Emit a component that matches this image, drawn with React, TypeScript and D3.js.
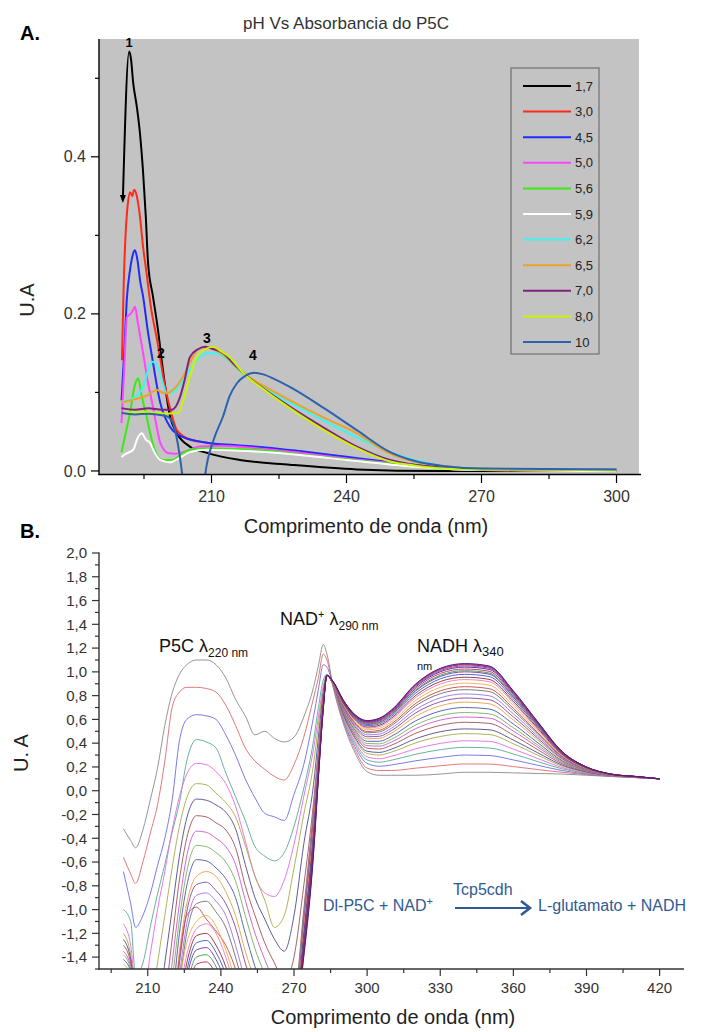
import React from 'react';
import * as d3 from 'd3';

const FONT = "'Liberation Sans', Arial, Helvetica, sans-serif";

// ---------------- Panel A data ----------------
const A_TITLE = 'pH Vs Absorbancia do P5C';
const A_LABELS = ['1,7', '3,0', '4,5', '5,0', '5,6', '5,9', '6,2', '6,5', '7,0', '8,0', '10'];
const A_COLORS = ['#000000', '#ff2a1a', '#1f2bff', '#ff45ff', '#3bea10', '#ffffff', '#3cf5f5', '#eba22a', '#7f237f', '#c8f500', '#2d62ae'];
const A_X_DOMAIN = [185, 305];
const A_Y_DOMAIN = [-0.0045, 0.55];
const A_X_TICKS = [210, 240, 270, 300];
const A_X_MINOR = [195, 225, 255, 285];
const A_Y_TICKS = [0, 0.2, 0.4];
const A_Y_MINOR = [0.1, 0.3, 0.5];

const a17 = [[190.3, 0.345], [191.7, 0.534], [192.1, 0.525], [192.6, 0.494], [193.4, 0.464], [194.1, 0.43], [194.8, 0.38], [195.4, 0.324], [195.9, 0.265], [197, 0.222], [198.1, 0.18], [199.2, 0.129], [200.8, 0.069], [202.3, 0.048], [205.2, 0.031], [209, 0.023], [216.3, 0.014], [227.4, 0.008], [242.3, 0.002], [260, 0.0], [300, 0.0]];
const a30 = [[190.1, 0.141], [190.5, 0.24], [190.9, 0.3], [191.4, 0.34], [191.9, 0.355], [192.4, 0.35], [192.8, 0.358], [193.4, 0.35], [194.1, 0.324], [194.8, 0.285], [195.5, 0.255], [196.5, 0.21], [197.9, 0.167], [199.7, 0.107], [201, 0.075], [202.3, 0.052], [205.2, 0.04], [209, 0.036], [215, 0.032], [222, 0.029], [230, 0.024], [240, 0.017], [250, 0.01], [258, 0.005], [265, 0.002], [280, 0.001], [300, 0.001]];
const a45 = [[190, 0.09], [190.6, 0.15], [191.2, 0.22], [191.9, 0.256], [192.5, 0.275], [193, 0.281], [193.5, 0.27], [194.2, 0.24], [194.8, 0.222], [195.8, 0.18], [196.8, 0.145], [198.6, 0.087], [200.8, 0.056], [203.7, 0.043], [209, 0.036], [215, 0.033], [222, 0.03], [230, 0.025], [240, 0.018], [250, 0.011], [258, 0.006], [265, 0.003], [280, 0.002], [300, 0.002]];
const a50 = [[190, 0.061], [190.6, 0.13], [191.2, 0.196], [192, 0.2], [192.6, 0.205], [193, 0.209], [193.6, 0.19], [194.8, 0.15], [195.8, 0.115], [196.8, 0.087], [197.7, 0.06], [198.6, 0.036], [200.3, 0.023], [202, 0.022], [203.7, 0.024], [207.4, 0.031], [212, 0.032], [220, 0.029], [230, 0.023], [240, 0.016], [250, 0.01], [258, 0.005], [265, 0.002], [280, 0.001], [300, 0.001]];
const a56 = [[190, 0.024], [191, 0.05], [191.9, 0.074], [193, 0.11], [193.7, 0.118], [194.5, 0.095], [195.6, 0.069], [196.5, 0.045], [197.4, 0.027], [199, 0.014], [201.4, 0.014], [203, 0.02], [205.2, 0.027], [209, 0.029], [215, 0.028], [222, 0.026], [230, 0.021], [240, 0.015], [250, 0.009], [258, 0.004], [265, 0.002], [300, 0.001]];
const a59 = [[190, 0.018], [191, 0.022], [192.6, 0.027], [193.6, 0.042], [194.5, 0.048], [195.4, 0.04], [196.3, 0.036], [197.5, 0.022], [198.6, 0.014], [200.8, 0.011], [203, 0.017], [205.2, 0.024], [209, 0.027], [215, 0.026], [222, 0.024], [230, 0.02], [240, 0.014], [250, 0.008], [258, 0.004], [265, 0.002], [300, 0.0]];
const a62 = [[190, 0.088], [191.5, 0.09], [193, 0.094], [194.8, 0.107], [196, 0.13], [196.8, 0.139], [197.5, 0.137], [198.1, 0.132], [199, 0.115], [200.1, 0.099], [201.4, 0.1], [203, 0.11], [205.2, 0.129], [207, 0.143], [209, 0.15], [211, 0.15], [213, 0.144], [216.3, 0.127], [220, 0.112], [227.4, 0.087], [235, 0.064], [242.3, 0.043], [249.7, 0.024], [255, 0.014], [262, 0.006], [270, 0.003], [280, 0.002], [300, 0.002]];
const a65 = [[190, 0.087], [192, 0.09], [194, 0.093], [195.6, 0.096], [197.9, 0.103], [199, 0.1], [200.1, 0.099], [201.4, 0.103], [202.5, 0.11], [203.7, 0.12], [205.2, 0.138], [206.8, 0.154], [208, 0.157], [209.2, 0.157], [211, 0.153], [212.6, 0.148], [215, 0.135], [217, 0.125], [222, 0.107], [227.4, 0.09], [235, 0.068], [242.3, 0.048], [249.7, 0.022], [255, 0.012], [262, 0.006], [270, 0.003], [280, 0.002], [300, 0.002]];
const a70 = [[190, 0.08], [193, 0.078], [196, 0.08], [199, 0.078], [201.2, 0.078], [203, 0.094], [204, 0.115], [205.2, 0.145], [207, 0.155], [208.6, 0.158], [210.5, 0.155], [212.6, 0.15], [215, 0.136], [217, 0.125], [222, 0.103], [227.4, 0.082], [235, 0.055], [242.3, 0.031], [249.7, 0.014], [255, 0.008], [262, 0.004], [270, 0.002], [300, 0.001]];
const a80 = [[190, 0.074], [195, 0.075], [200, 0.073], [202.6, 0.074], [204, 0.095], [205.2, 0.12], [206.3, 0.14], [207.4, 0.15], [209, 0.156], [210.4, 0.158], [212, 0.153], [214, 0.145], [217, 0.125], [222, 0.102], [227.4, 0.08], [235, 0.052], [242.3, 0.029], [249.7, 0.012], [255, 0.007], [262, 0.003], [270, 0.002], [300, 0.001]];
const a10 = [[190, 0.074], [193, 0.072], [196, 0.073], [199, 0.071], [200.3, 0.069], [201.5, 0.06], [202.5, 0.035], [203.5, -0.005], [204.5, -0.06], [205.5, -0.15], [206.5, -0.16], [207.5, -0.07], [208.6, -0.005], [210.5, 0.04], [212.6, 0.07], [214, 0.095], [215.7, 0.112], [217.5, 0.121], [219.5, 0.125], [221.5, 0.123], [224, 0.117], [227.4, 0.107], [235, 0.08], [242.3, 0.052], [249.7, 0.024], [255, 0.013], [262, 0.006], [270, 0.003], [300, 0.002]];
const A_SERIES = [a17, a30, a45, a50, a56, a59, a62, a65, a70, a80, a10];

// ---------------- Panel B data ----------------
const B_X_TICKS = [210, 240, 270, 300, 330, 360, 390, 420];
const B_X_MINOR = [195, 225, 255, 285, 315, 345, 375, 405];
const B_Y_TICKS = [-1.4, -1.2, -1.0, -0.8, -0.6, -0.4, -0.2, 0.0, 0.2, 0.4, 0.6, 0.8, 1.0, 1.2, 1.4, 1.6, 1.8, 2.0];
const B_Y_MINOR = [-1.5, -1.3, -1.1, -0.9, -0.7, -0.5, -0.3, -0.1, 0.1, 0.3, 0.5, 0.7, 0.9, 1.1, 1.3, 1.5, 1.7, 1.9];
const B_WL = [200, 203, 205, 208, 211, 214, 217, 220, 223, 226, 230, 234, 238, 242, 246, 250, 254, 258, 262, 266, 270, 274, 278, 280, 282, 283.5, 286, 290, 295, 300, 305, 310, 320, 330, 340, 350, 360, 370, 380, 390, 400, 410, 420];

const b01 = [-0.32, -0.42, -0.48, -0.33, -0.08, 0.19, 0.55, 0.82, 0.98, 1.06, 1.10, 1.10, 1.06, 0.95, 0.77, 0.63, 0.47, 0.50, 0.44, 0.41, 0.45, 0.62, 0.87, 1.05, 1.23, 1.15, 0.88, 0.58, 0.32, 0.16, 0.13, 0.13, 0.13, 0.14, 0.155, 0.155, 0.15, 0.145, 0.14, 0.13, 0.12, 0.11, 0.10];
const b02 = [-0.56, -0.70, -0.78, -0.60, -0.36, -0.12, 0.25, 0.70, 0.83, 0.87, 0.87, 0.86, 0.83, 0.72, 0.55, 0.36, 0.25, 0.18, 0.12, 0.09, 0.22, 0.45, 0.78, 0.95, 1.15, 1.10, 0.88, 0.595, 0.345, 0.19, 0.17, 0.17, 0.19, 0.21, 0.225, 0.224, 0.203, 0.178, 0.155, 0.135, 0.12, 0.11, 0.10];
const b03 = [-0.68, -0.95, -1.15, -1.05, -0.87, -0.63, -0.40, -0.08, 0.42, 0.60, 0.64, 0.63, 0.60, 0.47, 0.30, 0.10, -0.06, -0.19, -0.22, -0.25, -0.03, 0.22, 0.62, 0.85, 1.06, 1.04, 0.89, 0.61, 0.37, 0.23, 0.206, 0.217, 0.252, 0.28, 0.30, 0.296, 0.259, 0.214, 0.17, 0.141, 0.123, 0.112, 0.10];
const b04 = [-1.00, -1.10, -1.55, -1.45, -1.15, -0.87, -0.62, -0.35, -0.10, 0.25, 0.43, 0.41, 0.36, 0.15, -0.05, -0.25, -0.47, -0.55, -0.59, -0.52, -0.30, 0.02, 0.42, 0.70, 0.93, 0.98, 0.89, 0.624, 0.394, 0.259, 0.24, 0.257, 0.307, 0.345, 0.365, 0.36, 0.309, 0.245, 0.184, 0.146, 0.125, 0.112, 0.10];
const b05 = [-1.12, -1.30, -1.65, -1.75, -1.38, -1.00, -0.68, -0.33, -0.05, 0.14, 0.23, 0.22, 0.16, 0.06, -0.13, -0.42, -0.72, -0.86, -0.89, -0.75, -0.45, -0.05, 0.35, 0.62, 0.88, 0.97, 0.89, 0.635, 0.413, 0.285, 0.269, 0.29, 0.353, 0.398, 0.42, 0.415, 0.35, 0.271, 0.195, 0.15, 0.126, 0.113, 0.10];
const b06 = [-1.20, -1.38, -1.70, -1.90, -1.85, -1.45, -1.05, -0.65, -0.30, -0.06, 0.06, 0.05, -0.02, -0.10, -0.22, -0.46, -0.72, -0.92, -1.15, -1.05, -0.65, -0.20, 0.22, 0.55, 0.85, 0.97, 0.89, 0.647, 0.434, 0.313, 0.30, 0.325, 0.403, 0.456, 0.48, 0.473, 0.395, 0.299, 0.207, 0.155, 0.127, 0.114, 0.10];
const b07 = [-1.25, -1.42, -1.75, -2.0, -2.0, -1.90, -1.45, -1.00, -0.55, -0.23, -0.07, -0.08, -0.12, -0.18, -0.32, -0.62, -0.90, -1.08, -1.25, -1.35, -1.05, -0.45, 0.05, 0.45, 0.82, 0.97, 0.896, 0.656, 0.448, 0.332, 0.322, 0.35, 0.438, 0.496, 0.52, 0.513, 0.426, 0.319, 0.216, 0.158, 0.128, 0.114, 0.10];
const b08 = [-1.30, -1.45, -1.80, -2.0, -2.0, -2.0, -1.75, -1.25, -0.75, -0.40, -0.21, -0.22, -0.27, -0.33, -0.48, -0.80, -1.05, -1.28, -1.45, -1.60, -1.40, -0.80, -0.10, 0.35, 0.80, 0.97, 0.898, 0.667, 0.467, 0.358, 0.351, 0.383, 0.484, 0.549, 0.576, 0.567, 0.467, 0.345, 0.227, 0.162, 0.129, 0.115, 0.10];
const b09 = [-1.35, -1.48, -1.85, -2.0, -2.0, -2.0, -2.0, -1.45, -0.95, -0.55, -0.34, -0.35, -0.40, -0.47, -0.62, -0.92, -1.20, -1.42, -1.62, -1.80, -1.75, -1.00, -0.15, 0.30, 0.78, 0.97, 0.90, 0.677, 0.483, 0.379, 0.375, 0.41, 0.523, 0.594, 0.62, 0.611, 0.502, 0.367, 0.237, 0.166, 0.13, 0.115, 0.10];
const b10 = [-1.38, -1.50, -1.90, -2.0, -2.0, -2.0, -2.0, -1.60, -1.08, -0.68, -0.46, -0.47, -0.52, -0.60, -0.76, -1.05, -1.33, -1.55, -1.80, -2.0, -1.80, -1.02, -0.18, 0.28, 0.77, 0.97, 0.902, 0.685, 0.496, 0.397, 0.394, 0.433, 0.554, 0.63, 0.658, 0.647, 0.53, 0.384, 0.245, 0.169, 0.131, 0.116, 0.10];
const b11 = [-1.42, -1.52, -1.95, -2.0, -2.0, -2.0, -2.0, -1.75, -1.20, -0.80, -0.58, -0.59, -0.65, -0.74, -0.90, -1.20, -1.48, -1.70, -2.0, -2.0, -1.85, -1.05, -0.20, 0.27, 0.77, 0.97, 0.904, 0.693, 0.511, 0.416, 0.416, 0.458, 0.589, 0.67, 0.70, 0.688, 0.561, 0.404, 0.253, 0.172, 0.132, 0.116, 0.10];
const b12 = [-1.46, -1.55, -2.0, -2.0, -2.0, -2.0, -2.0, -1.90, -1.35, -0.95, -0.72, -0.68, -0.72, -0.85, -1.05, -1.35, -1.60, -1.85, -2.0, -2.0, -1.85, -1.08, -0.22, 0.26, 0.76, 0.97, 0.906, 0.703, 0.526, 0.437, 0.44, 0.485, 0.627, 0.714, 0.745, 0.732, 0.595, 0.426, 0.263, 0.175, 0.133, 0.116, 0.10];
const b13 = [-1.50, -1.58, -2.0, -2.0, -2.0, -2.0, -2.0, -2.0, -1.45, -1.02, -0.79, -0.77, -0.84, -0.95, -1.15, -1.45, -1.70, -1.95, -2.0, -2.0, -1.90, -1.10, -0.24, 0.25, 0.76, 0.97, 0.907, 0.71, 0.539, 0.454, 0.458, 0.506, 0.656, 0.748, 0.78, 0.766, 0.621, 0.442, 0.27, 0.178, 0.134, 0.117, 0.10];
const b14 = [-1.55, -1.62, -2.0, -2.0, -2.0, -2.0, -2.0, -2.0, -1.55, -1.12, -0.88, -0.86, -0.93, -1.05, -1.30, -1.60, -1.85, -2.0, -2.0, -2.0, -1.90, -1.12, -0.26, 0.24, 0.75, 0.97, 0.909, 0.717, 0.55, 0.47, 0.476, 0.526, 0.684, 0.781, 0.814, 0.799, 0.647, 0.458, 0.277, 0.18, 0.134, 0.117, 0.10];
const b15 = [-1.60, -1.70, -2.0, -2.0, -2.0, -2.0, -2.0, -2.0, -1.62, -1.20, -0.95, -0.93, -1.02, -1.15, -1.40, -1.70, -1.95, -2.0, -2.0, -2.0, -1.95, -1.14, -0.28, 0.23, 0.75, 0.97, 0.91, 0.724, 0.563, 0.487, 0.495, 0.548, 0.715, 0.816, 0.85, 0.835, 0.674, 0.476, 0.284, 0.183, 0.135, 0.118, 0.10];
const b16 = [-1.65, -1.75, -2.0, -2.0, -2.0, -2.0, -2.0, -1.95, -1.40, -1.05, -0.98, -1.08, -1.18, -1.30, -1.50, -1.80, -2.0, -2.0, -2.0, -2.0, -1.95, -1.16, -0.30, 0.22, 0.74, 0.97, 0.911, 0.73, 0.572, 0.498, 0.508, 0.563, 0.736, 0.84, 0.875, 0.859, 0.693, 0.487, 0.29, 0.185, 0.136, 0.118, 0.10];
const b17 = [-1.70, -1.80, -2.0, -2.0, -2.0, -2.0, -2.0, -2.0, -1.60, -1.28, -1.10, -1.05, -1.14, -1.34, -1.60, -1.90, -2.0, -2.0, -2.0, -2.0, -2.0, -1.18, -0.32, 0.21, 0.74, 0.97, 0.913, 0.736, 0.582, 0.513, 0.524, 0.581, 0.761, 0.87, 0.905, 0.889, 0.716, 0.502, 0.296, 0.187, 0.136, 0.118, 0.10];
const b18 = [-1.75, -1.85, -2.0, -2.0, -2.0, -2.0, -2.0, -2.0, -1.70, -1.38, -1.16, -1.12, -1.20, -1.40, -1.68, -2.0, -2.0, -2.0, -2.0, -2.0, -2.0, -1.20, -0.34, 0.20, 0.73, 0.97, 0.914, 0.742, 0.593, 0.526, 0.539, 0.599, 0.786, 0.898, 0.935, 0.918, 0.738, 0.516, 0.302, 0.19, 0.137, 0.119, 0.10];
const b19 = [-1.80, -1.90, -2.0, -2.0, -2.0, -2.0, -2.0, -2.0, -1.80, -1.45, -1.22, -1.20, -1.30, -1.48, -1.75, -2.0, -2.0, -2.0, -2.0, -2.0, -2.0, -1.22, -0.36, 0.19, 0.73, 0.97, 0.915, 0.746, 0.60, 0.536, 0.55, 0.611, 0.803, 0.918, 0.955, 0.937, 0.753, 0.525, 0.306, 0.191, 0.137, 0.119, 0.10];
const b20 = [-1.85, -1.95, -2.0, -2.0, -2.0, -2.0, -2.0, -2.0, -1.90, -1.52, -1.28, -1.26, -1.36, -1.55, -1.85, -2.0, -2.0, -2.0, -2.0, -2.0, -2.0, -1.24, -0.38, 0.18, 0.72, 0.97, 0.916, 0.751, 0.608, 0.547, 0.562, 0.625, 0.823, 0.941, 0.979, 0.961, 0.771, 0.537, 0.311, 0.193, 0.138, 0.119, 0.10];
const b21 = [-1.90, -2.0, -2.0, -2.0, -2.0, -2.0, -2.0, -2.0, -2.0, -1.58, -1.34, -1.32, -1.42, -1.62, -1.95, -2.0, -2.0, -2.0, -2.0, -2.0, -2.0, -1.26, -0.40, 0.17, 0.72, 0.97, 0.917, 0.755, 0.615, 0.557, 0.573, 0.638, 0.841, 0.961, 1.0, 0.981, 0.787, 0.547, 0.315, 0.195, 0.138, 0.119, 0.10];
const b22 = [-1.95, -2.0, -2.0, -2.0, -2.0, -2.0, -2.0, -2.0, -2.0, -1.65, -1.40, -1.38, -1.48, -1.70, -2.0, -2.0, -2.0, -2.0, -2.0, -2.0, -2.0, -1.28, -0.42, 0.16, 0.71, 0.97, 0.917, 0.757, 0.619, 0.562, 0.578, 0.644, 0.849, 0.971, 1.01, 0.991, 0.794, 0.551, 0.317, 0.195, 0.139, 0.119, 0.10];
const b23 = [-2.0, -2.0, -2.0, -2.0, -2.0, -2.0, -2.0, -2.0, -2.0, -1.72, -1.46, -1.44, -1.55, -1.78, -2.0, -2.0, -2.0, -2.0, -2.0, -2.0, -2.0, -1.30, -0.44, 0.15, 0.71, 0.97, 0.918, 0.76, 0.624, 0.569, 0.586, 0.653, 0.862, 0.986, 1.024, 1.005, 0.806, 0.558, 0.32, 0.197, 0.139, 0.12, 0.10];
const b24 = [-2.0, -2.0, -2.0, -2.0, -2.0, -2.0, -2.0, -2.0, -2.0, -1.80, -1.55, -1.52, -1.62, -1.85, -2.0, -2.0, -2.0, -2.0, -2.0, -2.0, -2.0, -1.32, -0.46, 0.14, 0.70, 0.97, 0.919, 0.764, 0.629, 0.576, 0.594, 0.662, 0.875, 1.001, 1.04, 1.021, 0.817, 0.566, 0.324, 0.198, 0.139, 0.12, 0.10];
const b25 = [-2.0, -2.0, -2.0, -2.0, -2.0, -2.0, -2.0, -2.0, -2.0, -1.88, -1.62, -1.60, -1.70, -1.92, -2.0, -2.0, -2.0, -2.0, -2.0, -2.0, -2.0, -1.34, -0.48, 0.13, 0.70, 0.97, 0.919, 0.766, 0.633, 0.581, 0.599, 0.668, 0.883, 1.01, 1.05, 1.031, 0.825, 0.57, 0.326, 0.198, 0.14, 0.12, 0.10];
const b26 = [-2.0, -2.0, -2.0, -2.0, -2.0, -2.0, -2.0, -2.0, -2.0, -1.95, -1.70, -1.68, -1.78, -2.0, -2.0, -2.0, -2.0, -2.0, -2.0, -2.0, -2.0, -1.36, -0.50, 0.12, 0.69, 0.97, 0.92, 0.768, 0.636, 0.585, 0.605, 0.674, 0.892, 1.02, 1.06, 1.04, 0.832, 0.575, 0.328, 0.199, 0.14, 0.12, 0.10];
const b27 = [-2.0, -2.0, -2.0, -2.0, -2.0, -2.0, -2.0, -2.0, -2.0, -2.0, -1.78, -1.76, -1.86, -2.0, -2.0, -2.0, -2.0, -2.0, -2.0, -2.0, -2.0, -1.38, -0.52, 0.11, 0.69, 0.97, 0.92, 0.769, 0.638, 0.588, 0.608, 0.677, 0.896, 1.026, 1.065, 1.046, 0.837, 0.578, 0.329, 0.20, 0.14, 0.12, 0.10];
const b28 = [-2.0, -2.0, -2.0, -2.0, -2.0, -2.0, -2.0, -2.0, -2.0, -2.0, -1.85, -1.84, -1.94, -2.0, -2.0, -2.0, -2.0, -2.0, -2.0, -2.0, -2.0, -1.40, -0.54, 0.10, 0.68, 0.97, 0.92, 0.77, 0.64, 0.59, 0.61, 0.68, 0.90, 1.03, 1.07, 1.05, 0.84, 0.58, 0.33, 0.20, 0.14, 0.12, 0.10];
const B_SCANS = [b01, b02, b03, b04, b05, b06, b07, b08, b09, b10, b11, b12, b13, b14, b15, b16, b17, b18, b19, b20, b21, b22, b23, b24, b25, b26, b27, b28];
const B_COLORS = ['#8a8a8a', '#e06a6a', '#6c6ce6', '#5aa890', '#e46ae4', '#a8a84a', '#4c4c8c', '#a35252', '#d058c8', '#78b060', '#4858a8', '#e8a040', '#7c4aa0', '#a070e8', '#6e6e6e', '#c84848', '#f0b048', '#f07ab8', '#8c2a3a', '#3858c8', '#7030a8', '#3c9c50', '#c42060', '#2a2a8a', '#b02ab0', '#5a1a78', '#d42a2a', '#3c1a90'];

const REACT_BLUE = '#2f5b94';

export default function App() {
  // Panel A scales
  const ax = d3.scaleLinear().domain(A_X_DOMAIN).range([99, 639]);
  const ay = d3.scaleLinear().domain(A_Y_DOMAIN).range([474.5, 39]);
  const aLine = d3
    .line<number[]>()
    .x((d) => ax(d[0]))
    .y((d) => ay(d[1]))
    .curve(d3.curveMonotoneX);

  // Panel B scales
  const bx = d3.scaleLinear().domain([190, 430]).range([99, 684]);
  const by = d3.scaleLinear().domain([-1.5, 2.0]).range([969, 553]);
  const bLine = d3
    .line<number>()
    .x((_d, i) => bx(B_WL[i]))
    .y((d) => by(d))
    .curve(d3.curveMonotoneX);

  const blackStart = a17[0];
  const tipX = ax(blackStart[0]);
  const tipY = ay(blackStart[1]);

  const legendTop = 86;
  const legendStep = 25.6;

  return (
    <svg
      width={701}
      height={1032}
      viewBox="0 0 701 1032"
      style={{ position: 'absolute', left: 0, top: 0, display: 'block', background: '#ffffff' }}
      fontFamily={FONT}
    >
      <defs>
        <clipPath id="clipA">
          <rect x={99} y={39} width={540} height={435.5} />
        </clipPath>
        <clipPath id="clipB">
          <rect x={99} y={553} width={585} height={416} />
        </clipPath>
      </defs>
      <rect x={0} y={0} width={701} height={1032} fill="#ffffff" />

      {/* ================= PANEL A ================= */}
      <text x={20} y={40} fontSize={20} fontWeight="bold" fill="#000">A.</text>
      <text x={243} y={29} fontSize={17} fill="#333">{A_TITLE}</text>
      <rect x={99} y={39} width={540} height={435.5} fill="#c3c3c3" />

      <g clipPath="url(#clipA)">
        {A_SERIES.map((s, i) => (
          <path key={i} d={aLine(s) || ''} fill="none" stroke={A_COLORS[i]} strokeWidth={2} strokeLinejoin="round" />
        ))}
      </g>
      {/* arrowhead at the start of curve 1 */}
      <path d={`M${tipX},${tipY + 3} L${tipX - 3},${tipY - 5} L${tipX + 3},${tipY - 5} Z`} fill="#000" />

      {/* curve markers */}
      <text x={129} y={47} fontSize={13} fontWeight="bold" textAnchor="middle">1</text>
      <text x={161} y={358} fontSize={14} fontWeight="bold" textAnchor="middle">2</text>
      <text x={207} y={343} fontSize={14} fontWeight="bold" textAnchor="middle">3</text>
      <text x={253} y={360} fontSize={14} fontWeight="bold" textAnchor="middle">4</text>

      {/* legend */}
      <rect x={511} y={68} width={88} height={286} fill="none" stroke="#707070" strokeWidth={1.2} />
      {A_LABELS.map((lab, i) => (
        <g key={lab}>
          <line x1={523} x2={571} y1={legendTop + i * legendStep} y2={legendTop + i * legendStep} stroke={A_COLORS[i]} strokeWidth={2} />
          <text x={575} y={legendTop + i * legendStep} dy="0.35em" fontSize={13} fill="#222">{lab}</text>
        </g>
      ))}

      {/* axes A */}
      <line x1={99} x2={99} y1={39} y2={475} stroke="#000" strokeWidth={1.4} />
      <line x1={98.3} x2={641} y1={474.5} y2={474.5} stroke="#000" strokeWidth={1.4} />
      {A_Y_TICKS.map((t) => (
        <g key={'ay' + t}>
          <line x1={91} x2={99} y1={ay(t)} y2={ay(t)} stroke="#000" strokeWidth={1.2} />
          <text x={86} y={ay(t)} dy="0.35em" textAnchor="end" fontSize={16} fill="#333">{t.toFixed(1)}</text>
        </g>
      ))}
      {A_Y_MINOR.map((t) => (
        <line key={'aym' + t} x1={95} x2={99} y1={ay(t)} y2={ay(t)} stroke="#000" strokeWidth={1.2} />
      ))}
      {A_X_TICKS.map((t) => (
        <g key={'ax' + t}>
          <line x1={ax(t)} x2={ax(t)} y1={474.5} y2={483} stroke="#000" strokeWidth={1.2} />
          <text x={ax(t)} y={502} textAnchor="middle" fontSize={16} fill="#333">{t}</text>
        </g>
      ))}
      {A_X_MINOR.map((t) => (
        <line key={'axm' + t} x1={ax(t)} x2={ax(t)} y1={474.5} y2={479} stroke="#000" strokeWidth={1.2} />
      ))}
      <text transform="translate(34,300) rotate(-90)" textAnchor="middle" fontSize={20} fill="#222">U.A</text>
      <text x={366} y={533} textAnchor="middle" fontSize={20} fill="#222">Comprimento de onda (nm)</text>

      {/* ================= PANEL B ================= */}
      <text x={20} y={538} fontSize={20} fontWeight="bold" fill="#000">B.</text>

      <g clipPath="url(#clipB)">
        {B_SCANS.map((s, i) => (
          <path key={i} d={bLine(s) || ''} fill="none" stroke={B_COLORS[i]} strokeWidth={1} strokeOpacity={0.9} />
        ))}
      </g>

      {/* axes B */}
      <line x1={99} x2={99} y1={552.5} y2={969.5} stroke="#333" strokeWidth={1.4} />
      <line x1={98.3} x2={684} y1={969} y2={969} stroke="#333" strokeWidth={1.4} />
      {B_Y_TICKS.map((t) => (
        <g key={'by' + t}>
          <line x1={92} x2={99} y1={by(t)} y2={by(t)} stroke="#333" strokeWidth={1.2} />
          <text x={87} y={by(t)} dy="0.35em" textAnchor="end" fontSize={15} fill="#333">{t.toFixed(1).replace('.', ',')}</text>
        </g>
      ))}
      {B_Y_MINOR.map((t) => (
        <line key={'bym' + t} x1={95} x2={99} y1={by(t)} y2={by(t)} stroke="#333" strokeWidth={1.2} />
      ))}
      {B_X_TICKS.map((t) => (
        <g key={'bx' + t}>
          <line x1={bx(t)} x2={bx(t)} y1={969} y2={976} stroke="#333" strokeWidth={1.2} />
          <text x={bx(t)} y={993} textAnchor="middle" fontSize={15} fill="#333">{t}</text>
        </g>
      ))}
      {B_X_MINOR.map((t) => (
        <line key={'bxm' + t} x1={bx(t)} x2={bx(t)} y1={969} y2={973} stroke="#333" strokeWidth={1.2} />
      ))}
      <text transform="translate(28,753) rotate(-90)" textAnchor="middle" fontSize={20} fill="#222">U. A</text>
      <text x={393} y={1024} textAnchor="middle" fontSize={20} fill="#222">Comprimento de onda (nm)</text>

      {/* annotations B */}
      <text x={159} y={652} fontSize={18} fill="#111">
        P5C λ<tspan fontSize={12} dy={5}>220 nm</tspan>
      </text>
      <text x={280} y={625} fontSize={18} fill="#111">
        NAD<tspan fontSize={11} dy={-7}>+</tspan>
        <tspan dy={7}> λ</tspan>
        <tspan fontSize={12} dy={5}>290 nm</tspan>
      </text>
      <text x={417} y={652} fontSize={18} fill="#111">
        NADH λ<tspan fontSize={13} dy={4}>340</tspan>
      </text>
      <text x={417} y={670} fontSize={11} fill="#111">nm</text>

      {/* reaction */}
      <text x={323} y={911} fontSize={16} fill={REACT_BLUE}>
        Dl-P5C + NAD<tspan fontSize={11} dy={-6}>+</tspan>
      </text>
      <text x={453} y={895} fontSize={16} fill={REACT_BLUE}>Tcp5cdh</text>
      <line x1={455} x2={529} y1={908} y2={908} stroke={REACT_BLUE} strokeWidth={2} />
      <path d="M521,901 L530,908 L521,915" fill="none" stroke={REACT_BLUE} strokeWidth={2.6} strokeLinejoin="miter" />
      <text x={538} y={911} fontSize={16} fill={REACT_BLUE}>L-glutamato + NADH</text>
    </svg>
  );
}
